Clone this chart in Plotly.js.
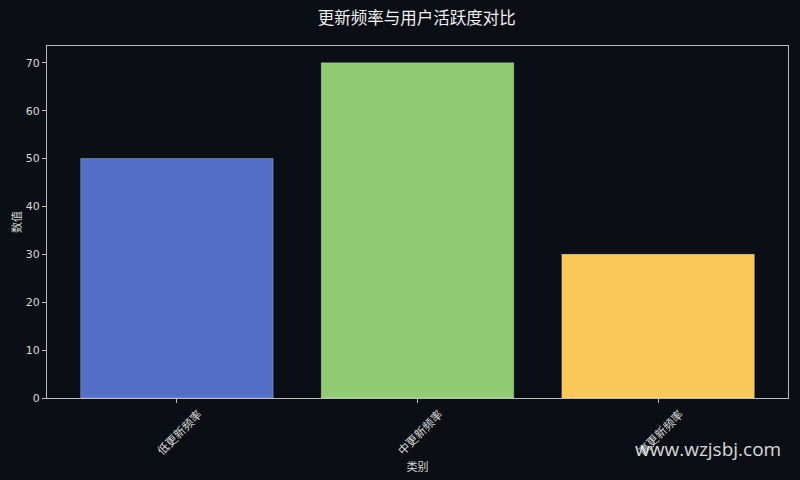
<!DOCTYPE html>
<html>
<head>
<meta charset="utf-8">
<script src="https://cdn.plot.ly/plotly-3.0.1.min.js"></script>
<style>
  html, body { margin: 0; padding: 0; background: #0b0e14; }
  #chart { width: 800px; height: 480px; }
</style>
</head>
<body>
<div id="chart"></div>
<script>
const categories = ['低更新频率', '中更新频率', '高更新频率'];
const values = [50, 70, 30];
const barColors = ['#5470c6', '#91cc75', '#fac858'];

const fontFamily = 'DejaVu Sans, "Noto Sans CJK SC", sans-serif';

const trace = {
  x: categories,
  y: values,
  type: 'bar',
  width: 0.8,
  marker: {
    color: barColors,
    line: { color: 'rgba(255,255,255,0.25)', width: 1 }
  },
  hoverinfo: 'x+y'
};

const layout = {
  width: 800,
  height: 480,
  paper_bgcolor: '#0b0e14',
  plot_bgcolor: '#0b0e14',
  margin: { l: 47, r: 12, t: 46, b: 82 },
  font: { family: fontFamily, color: '#d8d8d8', size: 11 },
  title: {
    text: '更新频率与用户活跃度对比',
    font: { family: '"Noto Sans CJK SC", sans-serif', size: 16.5, color: '#f0f0f0' },
    x: 0.521, xanchor: 'center',
    y: 0.962, yanchor: 'middle'
  },
  xaxis: {
    type: 'category',
    range: [-0.54, 2.54],
    tickangle: -45,
    ticklabelshift: 22,
    ticks: 'outside',
    ticklen: 4,
    tickcolor: '#bbbbbb',
    tickfont: { family: '"Noto Sans CJK SC", sans-serif', size: 11.5, color: '#d8d8d8' },
    showline: true,
    linecolor: '#bbbbbb',
    linewidth: 1,
    mirror: true,
    showgrid: false,
    zeroline: false,
    title: { text: '类别', font: { family: '"Noto Sans CJK SC", sans-serif', size: 11, color: '#d8d8d8' }, standoff: 2 }
  },
  yaxis: {
    range: [0, 73.5],
    dtick: 10,
    ticks: 'outside',
    ticklen: 4,
    tickcolor: '#bbbbbb',
    tickfont: { size: 11, color: '#d8d8d8' },
    showline: true,
    linecolor: '#bbbbbb',
    linewidth: 1,
    mirror: true,
    showgrid: false,
    zeroline: false,
    title: { text: '数值', font: { family: '"Noto Sans CJK SC", sans-serif', size: 11, color: '#d8d8d8' }, standoff: 1 }
  },
  annotations: [{
    text: 'www.wzjsbj.com',
    xref: 'paper', yref: 'paper',
    x: 0.892, y: -0.145,
    xanchor: 'center', yanchor: 'middle',
    showarrow: false,
    font: { family: '"Open Sans", DejaVu Sans, sans-serif', size: 19, color: 'rgba(255,255,255,0.85)' }
  }],
  showlegend: false
};

Plotly.newPlot('chart', [trace], layout, { displayModeBar: false });
</script>
</body>
</html>
